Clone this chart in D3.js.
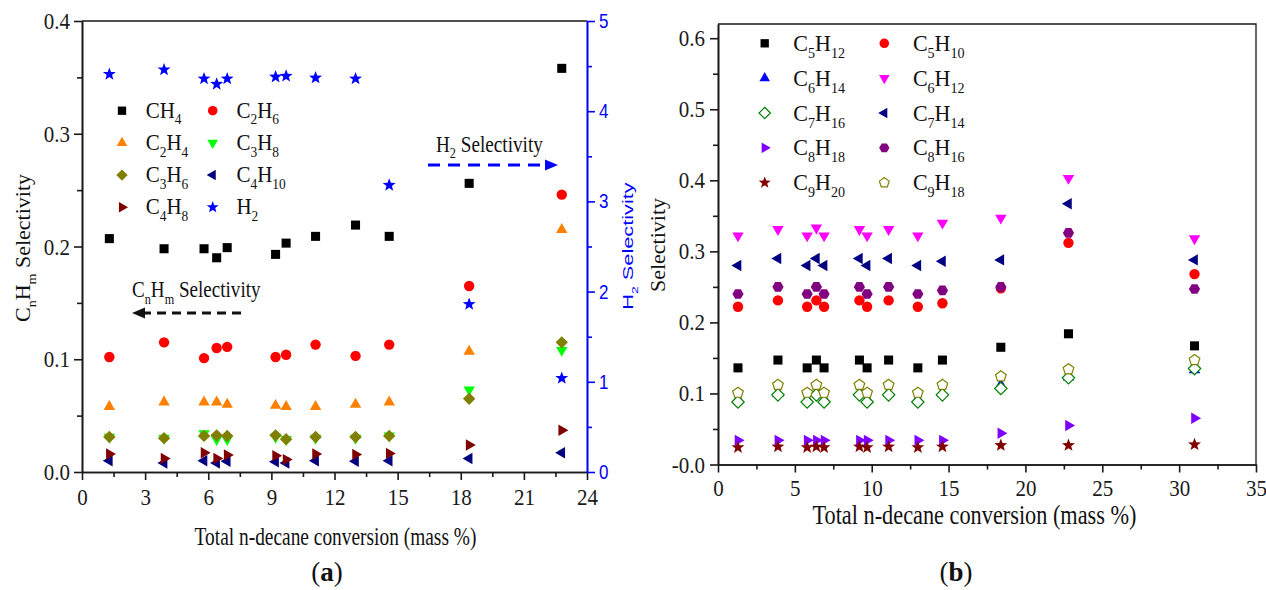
<!DOCTYPE html>
<html>
<head>
<meta charset="utf-8">
<script src="https://cdn.jsdelivr.net/npm/d3@7"></script>
<style>
  body { margin: 0; background: #fff; }
  svg { display: block; }
</style>
</head>
<body>
<svg id="chart" width="1266" height="590"></svg>
<script>
// ---------- Panel (a): light products and H2 ----------
const convA = [1.3, 3.9, 5.8, 6.4, 6.9, 9.2, 9.7, 11.1, 13.0, 14.6, 18.4, 22.8];
const selCH4   = [0.207, 0.198, 0.198, 0.190, 0.199, 0.193, 0.203, 0.209, 0.219, 0.209, 0.256, 0.358];
const selC2H6  = [0.102, 0.115, 0.101, 0.110, 0.111, 0.102, 0.104, 0.113, 0.103, 0.113, 0.165, 0.246];
const selC2H4  = [0.058, 0.062, 0.062, 0.062, 0.060, 0.059, 0.058, 0.058, 0.060, 0.062, 0.107, 0.215];
const selC3H8  = [0.031, 0.030, 0.034, 0.029, 0.029, 0.031, 0.029, 0.030, 0.030, 0.032, 0.073, 0.108];
const selC3H6  = [0.031, 0.030, 0.032, 0.0325, 0.032, 0.0325, 0.029, 0.031, 0.031, 0.032, 0.065, 0.115];
const selC4H10 = [0.010, 0.008, 0.010, 0.008, 0.0095, 0.009, 0.008, 0.010, 0.0095, 0.010, 0.012, 0.017];
const selC4H8  = [0.016, 0.012, 0.017, 0.012, 0.015, 0.0145, 0.011, 0.016, 0.0155, 0.0165, 0.024, 0.037];
const selH2    = [4.41, 4.46, 4.36, 4.30, 4.36, 4.38, 4.39, 4.37, 4.36, 3.18, 1.86, 1.04];

// ---------- Panel (b): C5-C9 products ----------
const convB = [1.3, 3.9, 5.8, 6.4, 6.9, 9.2, 9.7, 11.1, 13.0, 14.6, 18.4, 22.8, 31.0];
const selC5H12 = [0.136, 0.147, 0.136, 0.147, 0.136, 0.147, 0.136, 0.147, 0.136, 0.147, 0.165, 0.184, 0.167];
const selC5H10 = [0.222, 0.231, 0.222, 0.231, 0.222, 0.231, 0.222, 0.231, 0.222, 0.227, 0.248, 0.312, 0.268];
const selC6H14 = [0.092, 0.100, 0.092, 0.100, 0.092, 0.100, 0.092, 0.100, 0.092, 0.100, 0.112, 0.123, 0.133];
const selC6H12 = [0.322, 0.331, 0.322, 0.333, 0.322, 0.331, 0.322, 0.331, 0.322, 0.340, 0.347, 0.403, 0.318];
const selC7H16 = [0.088, 0.098, 0.088, 0.098, 0.088, 0.098, 0.088, 0.098, 0.088, 0.098, 0.107, 0.122, 0.135];
const selC7H14 = [0.280, 0.290, 0.280, 0.290, 0.280, 0.290, 0.280, 0.290, 0.280, 0.286, 0.288, 0.367, 0.288];
const selC8H18 = [0.034, 0.034, 0.034, 0.034, 0.034, 0.034, 0.034, 0.034, 0.034, 0.034, 0.044, 0.055, 0.065];
const selC8H16 = [0.240, 0.250, 0.240, 0.250, 0.240, 0.250, 0.240, 0.250, 0.240, 0.245, 0.250, 0.326, 0.247];
const selC9H20 = [0.024, 0.025, 0.024, 0.025, 0.024, 0.025, 0.024, 0.025, 0.024, 0.025, 0.027, 0.027, 0.028];
const selC9H18 = [0.101, 0.112, 0.101, 0.112, 0.101, 0.112, 0.101, 0.112, 0.101, 0.112, 0.124, 0.134, 0.147];

// ---------- Tick values and labels ----------
const ticksAX = [0, 3, 6, 9, 12, 15, 18, 21, 24];
const ticksAY = [0, 0.1, 0.2, 0.3, 0.4];
const labelsAY = ["0.0", "0.1", "0.2", "0.3", "0.4"];
const ticksAY2 = [0, 1, 2, 3, 4, 5];
const ticksBX = [0, 5, 10, 15, 20, 25, 30, 35];
const ticksBY = [0, 0.1, 0.2, 0.3, 0.4, 0.5, 0.6];
const labelsBY = ["-0.0", "0.1", "0.2", "0.3", "0.4", "0.5", "0.6"];

const xTitle = "Total n-decane conversion (mass %)";

// ---------- Marker shapes as d3 symbol types (size = r^2) ----------
function polygon(n, startDeg) {
  return {
    draw(ctx, size) {
      const r = Math.sqrt(size);
      for (let k = 0; k < n; k++) {
        const a = (startDeg + k * 360 / n) * Math.PI / 180;
        const x = r * Math.cos(a), y = r * Math.sin(a);
        if (k === 0) ctx.moveTo(x, y); else ctx.lineTo(x, y);
      }
      ctx.closePath();
    }
  };
}
const starType = {
  draw(ctx, size) {
    const r = Math.sqrt(size), ri = r * 0.42;
    for (let k = 0; k < 10; k++) {
      const a = (-90 + k * 36) * Math.PI / 180;
      const rr = k % 2 ? ri : r;
      if (k === 0) ctx.moveTo(rr * Math.cos(a), rr * Math.sin(a));
      else ctx.lineTo(rr * Math.cos(a), rr * Math.sin(a));
    }
    ctx.closePath();
  }
};
const circleType = { draw(ctx, size) { const r = Math.sqrt(size); ctx.moveTo(r, 0); ctx.arc(0, 0, r, 0, 2 * Math.PI); } };
const shapes = {
  square: { type: polygon(4, 45), r: 6.4 },
  circle: { type: circleType, r: 5.2 },
  up: { type: polygon(3, -90), r: 6.6 },
  down: { type: polygon(3, 90), r: 6.6 },
  left: { type: polygon(3, 180), r: 6.6 },
  right: { type: polygon(3, 0), r: 6.6 },
  diamond: { type: polygon(4, -90), r: 6.2 },
  star: { type: starType, r: 6.8 },
  hexagon: { type: polygon(6, 0), r: 5.6 },
  pentagon: { type: polygon(5, -90), r: 5.6 }
};
const symbolPath = (shape, scale = 1) =>
  d3.symbol().type(shapes[shape].type).size(Math.pow(shapes[shape].r * scale, 2))();

// ---------- Series tables ----------
const seriesA = [
  { name: "CH4",   values: selCH4,   shape: "square",  color: "#000000" },
  { name: "C2H6",  values: selC2H6,  shape: "circle",  color: "#ff0000" },
  { name: "C2H4",  values: selC2H4,  shape: "up",      color: "#ff8000" },
  { name: "C3H8",  values: selC3H8,  shape: "down",    color: "#00ff00" },
  { name: "C3H6",  values: selC3H6,  shape: "diamond", color: "#808000" },
  { name: "C4H10", values: selC4H10, shape: "left",    color: "#000080" },
  { name: "C4H8",  values: selC4H8,  shape: "right",   color: "#800000" },
  { name: "H2",    values: selH2,    shape: "star",    color: "#0000ff", right: true }
];
const seriesB = [
  { name: "C5H12", values: selC5H12, shape: "square",   color: "#000000" },
  { name: "C5H10", values: selC5H10, shape: "circle",   color: "#ff0000" },
  { name: "C6H14", values: selC6H14, shape: "up",       color: "#0000ff" },
  { name: "C6H12", values: selC6H12, shape: "down",     color: "#ff00ff" },
  { name: "C7H16", values: selC7H16, shape: "diamond",  color: "#008000", open: true },
  { name: "C7H14", values: selC7H14, shape: "left",     color: "#000080" },
  { name: "C8H18", values: selC8H18, shape: "right",    color: "#8000ff" },
  { name: "C8H16", values: selC8H16, shape: "hexagon",  color: "#800080" },
  { name: "C9H20", values: selC9H20, shape: "star",     color: "#800000" },
  { name: "C9H18", values: selC9H18, shape: "pentagon", color: "#808000", open: true }
];

const svg = d3.select("#chart");
const SERIF = "'Liberation Serif', 'Times New Roman', serif";
const SANS = "'Liberation Sans', Arial, sans-serif";
const AXIS = "#1a1a1a";

// Split a formula like C4H10 into text parts, digits as subscripts
function formulaParts(f) {
  return f.match(/[A-Za-z]+|\d+/g).map(t => [t, /\d/.test(t)]);
}

// Text with optional subscripts, drawn in its own transformed frame
function richText(parent, o) {
  const t = parent.append("text")
    .attr("transform", `translate(${o.x},${o.y}) rotate(${o.rotate || 0}) scale(${o.sx || 1},${o.sy || 1})`)
    .attr("text-anchor", o.anchor || "start")
    .attr("font-family", o.family || SERIF)
    .attr("font-size", o.size)
    .attr("font-weight", o.weight || "normal")
    .attr("fill", o.fill || "#111");
  const subSize = o.size * 0.64, drop = o.size * 0.3;
  let down = false;
  o.parts.forEach(([txt, sub]) => {
    const s = t.append("tspan").text(txt);
    if (sub && !down) { s.attr("dy", drop); down = true; }
    else if (!sub && down) { s.attr("dy", -drop); down = false; }
    if (sub) s.attr("font-size", subSize);
    if (o.boldParts && o.boldParts.includes(txt)) s.attr("font-weight", "bold");
  });
  return t;
}

// Axis styling; tick labels get a slight vertical stretch
function styleAxis(g, fontSize, family, color, stretch = 1) {
  g.attr("font-family", null);
  g.select(".domain").attr("stroke", color).attr("stroke-width", 1.6);
  g.selectAll(".tick line").attr("stroke", color).attr("stroke-width", 1.6);
  g.selectAll(".tick text")
    .attr("font-size", fontSize).attr("font-family", family).attr("fill", color)
    .each(function () {
      const t = d3.select(this);
      const y = +t.attr("y") || 0;
      t.attr("y", y / stretch).attr("transform", `scale(1,${stretch})`);
    });
}
function minorTicks(a, b, step) {
  const out = [];
  for (let v = a + step / 2; v < b; v += step) out.push(+v.toFixed(4));
  return out;
}

// ================= Panel (a) =================
const xA = d3.scaleLinear().domain([0, 24]).range([82, 587]);
const yA = d3.scaleLinear().domain([0, 0.4]).range([472, 21]);
const yA2 = d3.scaleLinear().domain([0, 5]).range([472, 21]);

const gA = svg.append("g");
// frame top line
gA.append("line").attr("x1", xA(0)).attr("x2", xA(24)).attr("y1", yA(0.4)).attr("y2", yA(0.4))
  .attr("stroke", AXIS).attr("stroke-width", 1.6);

gA.append("g").attr("transform", `translate(0,${yA(0)})`)
  .call(d3.axisBottom(xA).tickValues(minorTicks(0, 24, 3)).tickSize(5).tickSizeOuter(0).tickFormat(""))
  .call(g => styleAxis(g, 21, SERIF, AXIS));
gA.append("g").attr("transform", `translate(0,${yA(0)})`)
  .call(d3.axisBottom(xA).tickValues(ticksAX).tickSize(8).tickSizeOuter(0).tickPadding(8).tickFormat(d3.format("d")))
  .call(g => styleAxis(g, 21, SERIF, AXIS, 1.12));
gA.append("g").attr("transform", `translate(${xA(0)},0)`)
  .call(d3.axisLeft(yA).tickValues(minorTicks(0, 0.4, 0.1)).tickSize(5).tickSizeOuter(0).tickFormat(""))
  .call(g => styleAxis(g, 21, SERIF, AXIS));
gA.append("g").attr("transform", `translate(${xA(0)},0)`)
  .call(d3.axisLeft(yA).tickValues(ticksAY).tickSize(8).tickSizeOuter(0).tickPadding(4)
    .tickFormat((d, i) => labelsAY[i]))
  .call(g => styleAxis(g, 21, SERIF, AXIS, 1.12));
gA.append("g").attr("transform", `translate(${xA(24)},0)`)
  .call(d3.axisRight(yA2).tickValues(minorTicks(0, 5, 1)).tickSize(5).tickSizeOuter(0).tickFormat(""))
  .call(g => styleAxis(g, 17, SANS, "#0000ff"));
gA.append("g").attr("transform", `translate(${xA(24)},0)`)
  .call(d3.axisRight(yA2).tickValues(ticksAY2).tickSize(8).tickSizeOuter(0).tickPadding(4).tickFormat(d3.format("d")))
  .call(g => styleAxis(g, 17, SANS, "#0000ff", 1.2));

// markers
seriesA.forEach(s => {
  const y = s.right ? yA2 : yA;
  gA.append("g").selectAll("path").data(s.values).join("path")
    .attr("transform", (v, i) => `translate(${xA(convA[i])},${y(v)})`)
    .attr("d", symbolPath(s.shape))
    .attr("fill", s.open ? "#fff" : s.color)
    .attr("stroke", s.open ? s.color : "none")
    .attr("stroke-width", 1.2);
});

// legend (a)
const legA = { x0: 122, dx: 90.7, tx: 23.7, y0: 110.7, dy: 32.2 };
seriesA.forEach((s, i) => {
  const col = i % 2, row = Math.floor(i / 2);
  const cx = legA.x0 + col * legA.dx, cy = legA.y0 + row * legA.dy;
  gA.append("path").attr("transform", `translate(${cx},${cy})`)
    .attr("d", symbolPath(s.shape, 0.92))
    .attr("fill", s.open ? "#fff" : s.color).attr("stroke", s.open ? s.color : "none");
  richText(gA, { x: cx + legA.tx, y: cy + 7, size: 21, sy: 1.05, parts: formulaParts(s.name) });
});

// annotations with dashed arrows
richText(gA, { x: 436, y: 151.5, size: 19.2, sy: 1.18,
  parts: [["H", false], ["2", true], [" Selectivity", false]] });
gA.append("line").attr("x1", 428).attr("x2", 548).attr("y1", 165).attr("y2", 165)
  .attr("stroke", "#0000ff").attr("stroke-width", 3).attr("stroke-dasharray", "12,8");
gA.append("path").attr("d", "M558,165 L545,159.5 L545,170.5 Z").attr("fill", "#0000ff");

richText(gA, { x: 132, y: 297, size: 19.1, sy: 1.18,
  parts: [["C", false], ["n", true], ["H", false], ["m", true], [" Selectivity", false]] });
gA.append("line").attr("x1", 142).attr("x2", 242).attr("y1", 313).attr("y2", 313)
  .attr("stroke", "#111").attr("stroke-width", 3).attr("stroke-dasharray", "9,6");
gA.append("path").attr("d", "M132,313 L145,307.5 L145,318.5 Z").attr("fill", "#111");

// axis titles (a)
richText(gA, { x: 30, y: 248, rotate: -90, size: 20, sx: 1.1, anchor: "middle",
  parts: [["C", false], ["n", true], ["H", false], ["m", true], [" Selectivity", false]] });
richText(gA, { x: 633, y: 246, rotate: -90, size: 15, sx: 1.45, anchor: "middle", family: SANS, fill: "#0000ff",
  parts: [["H", false], ["2", true], [" Selectivity", false]] });
richText(gA, { x: 335.5, y: 545, size: 19.4, sy: 1.3, anchor: "middle", parts: [[xTitle, false]] });
richText(gA, { x: 327, y: 581, size: 27, sy: 1.05, anchor: "middle", parts: [["(", false], ["a", false], [")", false]], boldParts: ["a"] });

// ================= Panel (b) =================
const xB = d3.scaleLinear().domain([0, 35]).range([718, 1256]);
const yB = d3.scaleLinear().domain([0, 0.62]).range([464.5, 24]);
const gB = svg.append("g");

gB.append("path")
  .attr("d", `M${xB(0)},${yB(0.62)} H${xB(35)} V${yB(0)}`)
  .attr("fill", "none").attr("stroke", AXIS).attr("stroke-width", 1.3);

gB.append("g").attr("transform", `translate(0,${yB(0)})`)
  .call(d3.axisBottom(xB).tickValues(minorTicks(0, 35, 5)).tickSize(5).tickSizeOuter(0).tickFormat(""))
  .call(g => styleAxis(g, 21, SERIF, AXIS));
gB.append("g").attr("transform", `translate(0,${yB(0)})`)
  .call(d3.axisBottom(xB).tickValues(ticksBX).tickSize(8).tickSizeOuter(0).tickPadding(7).tickFormat(d3.format("d")))
  .call(g => styleAxis(g, 21, SERIF, AXIS, 1.12));
gB.append("g").attr("transform", `translate(${xB(0)},0)`)
  .call(d3.axisLeft(yB).tickValues(minorTicks(0, 0.6, 0.1)).tickSize(5).tickSizeOuter(0).tickFormat(""))
  .call(g => styleAxis(g, 21, SERIF, AXIS));
gB.append("g").attr("transform", `translate(${xB(0)},0)`)
  .call(d3.axisLeft(yB).tickValues(ticksBY).tickSize(8).tickSizeOuter(0).tickPadding(5)
    .tickFormat((d, i) => labelsBY[i]))
  .call(g => styleAxis(g, 21, SERIF, AXIS, 1.12));

seriesB.forEach(s => {
  gB.append("g").selectAll("path").data(s.values).join("path")
    .attr("transform", (v, i) => `translate(${xB(convB[i])},${yB(v)})`)
    .attr("d", symbolPath(s.shape))
    .attr("fill", s.open ? "#fff" : s.color)
    .attr("stroke", s.open ? s.color : "none")
    .attr("stroke-width", 1.2);
});

const legB = { x0: 764.7, dx: 119.6, tx: 28.6, y0: 43.3, dy: 34.85 };
seriesB.forEach((s, i) => {
  const col = i % 2, row = Math.floor(i / 2);
  const cx = legB.x0 + col * legB.dx, cy = legB.y0 + row * legB.dy;
  gB.append("path").attr("transform", `translate(${cx},${cy})`)
    .attr("d", symbolPath(s.shape, 0.92))
    .attr("fill", s.open ? "#fff" : s.color).attr("stroke", s.open ? s.color : "none").attr("stroke-width", 1.2);
  richText(gB, { x: cx + legB.tx, y: cy + 7.5, size: 22, sy: 1.08, parts: formulaParts(s.name) });
});

richText(gB, { x: 665, y: 245, rotate: -90, size: 22, anchor: "middle", parts: [["Selectivity", false]] });
richText(gB, { x: 974.5, y: 524, size: 22.3, sy: 1.2, anchor: "middle", parts: [[xTitle, false]] });
richText(gB, { x: 956, y: 581, size: 27, sy: 1.05, anchor: "middle", parts: [["(", false], ["b", false], [")", false]], boldParts: ["b"] });
</script>
</body>
</html>
